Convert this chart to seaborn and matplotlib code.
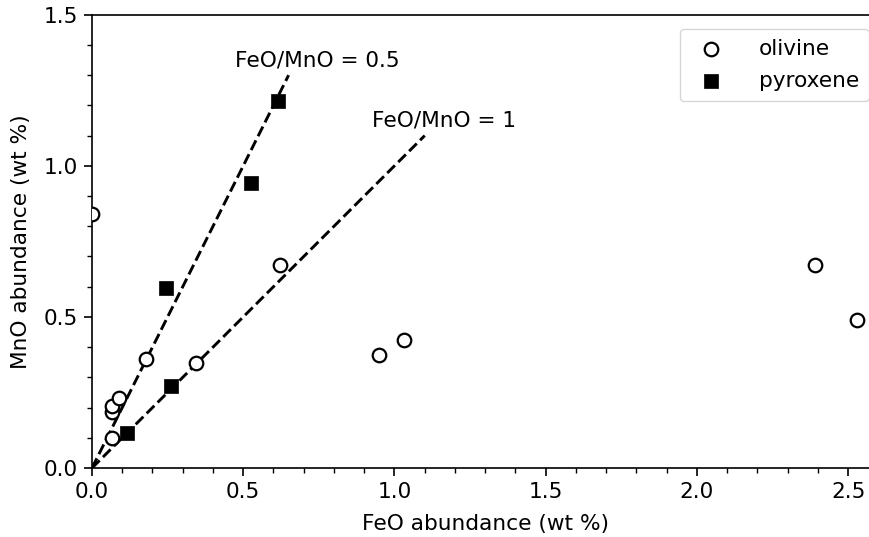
import matplotlib
matplotlib.use("Agg")
import matplotlib.pyplot as plt
import numpy as np
import pandas as pd
import seaborn as sns
from matplotlib.ticker import MultipleLocator

# olivine analyses (wt %)
olivine_feo = [0.0, 0.065, 0.065, 0.065, 0.09, 0.18, 0.345, 0.62, 0.95, 1.03, 2.39, 2.53]
olivine_mno = [0.84, 0.10, 0.185, 0.205, 0.232, 0.362, 0.348, 0.672, 0.374, 0.424, 0.672, 0.49]

# pyroxene analyses (wt %)
pyroxene_feo = [0.115, 0.26, 0.245, 0.525, 0.615]
pyroxene_mno = [0.115, 0.272, 0.594, 0.943, 1.213]

# reference FeO/MnO ratio lines and where they stop
ratios = [0.5, 1]
ratio_feo_end = [0.65, 1.1]
ratio_label_pos = [(0.473, 1.33), (0.925, 1.129)]

FS = 15.6

sns.set_style("ticks")
plt.rcParams['font.family'] = ['DejaVu Sans']
plt.rcParams.update({
    'text.color': 'black', 'axes.labelcolor': 'black', 'axes.edgecolor': 'black',
    'xtick.color': 'black', 'ytick.color': 'black',
})

fig = plt.figure(figsize=(8.7, 5.37), dpi=100)
ax = fig.add_axes([92 / 870, 69 / 537, 2.6 * 302.5 / 870, 1.5 * 302.2 / 537])

for ratio, x_end, (tx, ty) in zip(ratios, ratio_feo_end, ratio_label_pos):
    xs = np.array([0.0, x_end])
    sns.lineplot(x=xs, y=xs / ratio, ax=ax, color='black', lw=2.1,
                 linestyle='--', zorder=1)
    ax.text(tx, ty, f'FeO/MnO = {ratio:g}', fontsize=FS, va='baseline')

oli = pd.DataFrame({'feo': olivine_feo, 'mno': olivine_mno})
pyx = pd.DataFrame({'feo': pyroxene_feo, 'mno': pyroxene_mno})

sns.scatterplot(data=oli, x='feo', y='mno', ax=ax, marker='o', s=95,
                facecolor='white', edgecolor='black', linewidth=1.6,
                label='olivine', zorder=3)
sns.scatterplot(data=pyx, x='feo', y='mno', ax=ax, marker='s', s=115,
                color='black', edgecolor='black', linewidth=0.5,
                label='pyroxene', zorder=3)

ax.set_xlim(0, 2.6)
ax.set_ylim(0, 1.5)
ax.xaxis.set_major_locator(MultipleLocator(0.5))
ax.yaxis.set_major_locator(MultipleLocator(0.5))
ax.xaxis.set_minor_locator(MultipleLocator(0.1))
ax.yaxis.set_minor_locator(MultipleLocator(0.1))
ax.tick_params(which='major', length=6, width=1.2, labelsize=FS, pad=4)
ax.tick_params(which='minor', length=3.5, width=1.0)
for side in ax.spines.values():
    side.set_linewidth(1.2)
ax.spines['right'].set_visible(False)

ax.set_xlabel('FeO abundance (wt %)', fontsize=FS, labelpad=9)
ax.set_ylabel('MnO abundance (wt %)', fontsize=FS, labelpad=9)

leg = ax.legend(loc='upper right', bbox_to_anchor=(0.9985, 0.988),
                fontsize=FS, frameon=True, borderpad=0.45, handletextpad=1.2,
                labelspacing=0.58, borderaxespad=0.4)
leg.get_frame().set_edgecolor('#cccccc')

fig.savefig('out.png', dpi=100)
plt.close(fig)
